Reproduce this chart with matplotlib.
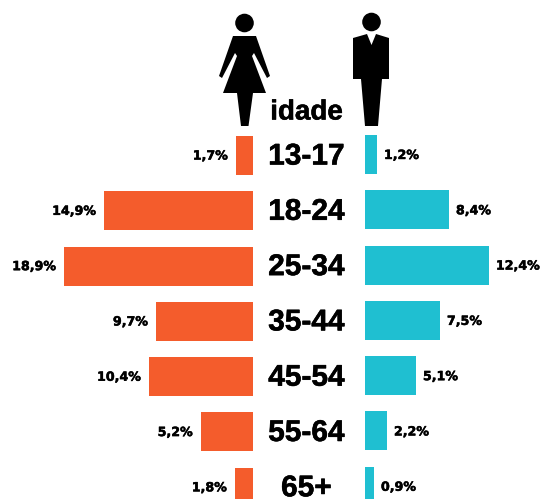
import matplotlib
matplotlib.use("Agg")
import matplotlib.pyplot as plt
from matplotlib.patches import Polygon, Ellipse
import matplotlib.patheffects as pe

ages = ["13-17", "18-24", "25-34", "35-44", "45-54", "55-64", "65+"]
women = [1.7, 14.9, 18.9, 9.7, 10.4, 5.2, 1.8]
men = [1.2, 8.4, 12.4, 7.5, 5.1, 2.2, 0.9]
ORANGE = "#F45C2C"
CYAN = "#1FBFD1"
W, H = 549, 499

fig = plt.figure(figsize=(W/100, H/100), dpi=100, facecolor="white")

def make_axes(x0, x1, y_shift):
    ax = fig.add_axes([x0/W, 0, (x1-x0)/W, 1])
    # row i is centred at 155.5 + 55.3*i pixels from the top; one y unit = 55.3 px
    top = (0 - 155.5 + y_shift)/55.3
    bottom = (H - 155.5 + y_shift)/55.3
    ax.set_ylim(bottom, top)
    ax.axis("off")
    ax.patch.set_alpha(0)
    return ax

PX = 10.0  # pixels per percentage point
axl = make_axes(0, 253, 0)
axl.set_xlim(253/PX, 0)
axr = make_axes(365, W, 1)
axr.set_xlim(0, (W-365)/PX)

rows = range(len(ages))
axl.barh(list(rows), women, height=39/55.3, color=ORANGE)
axr.barh(list(rows), men, height=39/55.3, color=CYAN)

stroke = [pe.withStroke(linewidth=0.35, foreground="black")]
lab = dict(fontfamily="DejaVu Sans", fontweight="bold", fontsize=9.1, color="black", va="center",
           annotation_clip=False, path_effects=stroke)
for i, v in zip(rows, women):
    axl.annotate(f"{v:.1f}%".replace(".", ","), (v, i), xytext=(-6, -0.4), textcoords="offset points", ha="right", **lab)
for i, v in zip(rows, men):
    axr.annotate(f"{v:.1f}%".replace(".", ","), (v, i), xytext=(5, -0.7), textcoords="offset points", ha="left", **lab)

def fx(x): return x/W
def fy(y): return 1 - y/H

big = [pe.withStroke(linewidth=0.4, foreground="black")]
for a, yc in zip(ages, [155.5 + 55.3*i for i in rows]):
    fig.text(fx(306.5), fy(yc+1), a, ha="center", va="center", fontfamily="Liberation Sans",
             fontweight="bold", fontsize=21.5, color="black", path_effects=big)
fig.text(fx(306.5), fy(112.5), "idade", ha="center", va="center", fontfamily="Liberation Sans",
         fontweight="bold", fontsize=20, color="black", path_effects=big)

def poly(pts):
    fig.add_artist(Polygon([(fx(x), fy(y)) for x, y in pts], closed=True, transform=fig.transFigure,
                           facecolor="black", edgecolor="none"))

def circle(x, y, r):
    fig.add_artist(Ellipse((fx(x), fy(y)), 2*r/W, 2*r/H, transform=fig.transFigure, facecolor="black", edgecolor="none"))

# woman icon
circle(244.5, 23, 9.3)
poly([(233, 36), (256, 36), (270, 76), (267, 78), (254, 53), (252, 56), (266, 93), (253, 93), (248.5, 126),
      (241, 126), (237, 93), (223, 93), (237, 56), (235, 53), (222, 78), (219, 76)])
# man icon
circle(371.5, 22, 9.3)
poly([(353, 38), (367, 34), (371.5, 45), (376, 34), (389, 38), (389, 79), (382, 79), (378, 126),
      (365, 126), (361, 79), (353, 79)])

fig.savefig("out.png", dpi=100, facecolor="white")
